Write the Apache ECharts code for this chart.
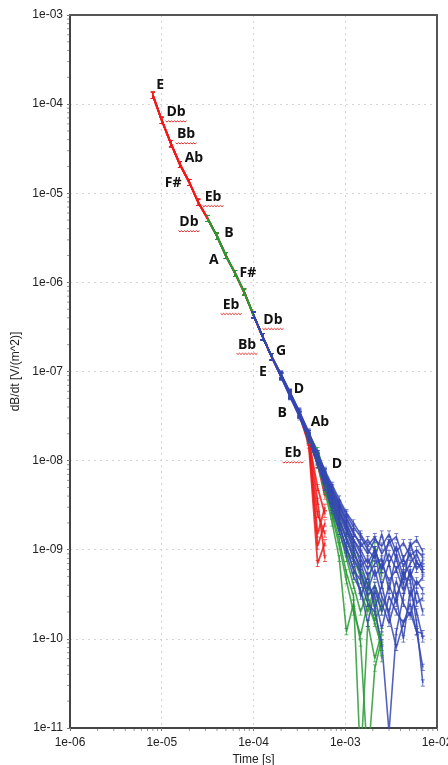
<!DOCTYPE html>
<html lang="en">
<head>
<meta charset="UTF-8" />
<title>dB/dt decay curves</title>
<script src="https://cdn.jsdelivr.net/npm/echarts@6/dist/echarts.min.js"></script>
<style>
  html,body{margin:0;padding:0;width:100%;height:100%;overflow:hidden;background:#fff;}
  #chart{position:absolute;top:0;left:0;width:448px;height:765px;}
</style>
</head>
<body>
<div id="chart"></div>
<script>
/* ==== gate times [s] ==== */
const gates = [8.0e-6, 1.0e-5, 1.26e-5, 1.58e-5, 2.0e-5, 2.5e-5, 3.16e-5, 4.0e-5, 5.0e-5, 6.3e-5,
  7.9e-5, 1.0e-4, 1.26e-4, 1.58e-4, 2.0e-4, 2.5e-4, 3.16e-4, 4.0e-4, 5.0e-4, 6.0e-4,
  7.2e-4, 8.6e-4, 1.03e-3, 1.23e-3, 1.47e-3, 1.76e-3, 2.1e-3, 2.5e-3, 3.0e-3, 3.6e-3,
  4.3e-3, 5.1e-3, 6.0e-3, 7.0e-3];

/* common early part of the decay (gates 0..16) */
const earlyCurve = [1.26e-4, 6.6e-5, 3.6e-5, 2.1e-5, 1.32e-5, 7.9e-6, 5.2e-6, 3.3e-6, 2.0e-6, 1.26e-6,
  7.8e-7, 4.3e-7, 2.45e-7, 1.46e-7, 8.9e-8, 5.5e-8, 3.3e-8];

/* red soundings, gates 17..19 */
const redTails = [
  [1.8e-8, 9.0e-9, 4.0e-9],
  [1.7e-8, 5.0e-9, 2.5e-9],
  [1.6e-8, 2.5e-9, 1.5e-9],
  [1.7e-8, 1.5e-9, 3.0e-9],
  [1.5e-8, 7.0e-10, 1.2e-9],
  [1.9e-8, 3.5e-9, 8.0e-10],
  [1.65e-8, 1.1e-9, 2.0e-9]
];

/* green soundings, gates 17..27 */
const greenTails = [
  [1.9e-8, 1.15e-8, 6.5e-9, 3.8e-9, 2.2e-9, 1.3e-9, 8.0e-10, 5.0e-10, 3.0e-10, 1.6e-10, 2.4e-10],
  [1.8e-8, 9.5e-9, 5.0e-9, 2.6e-9, 1.3e-9, 5.5e-10, 3.0e-10, 4.0e-12, 1.5e-10, 6.0e-11, 1.2e-10],
  [1.7e-8, 9.0e-9, 4.5e-9, 2.0e-9, 8.0e-10, 1.2e-10, 2.5e-10, 9.0e-11, 4.0e-12, 4.7e-11, 1.0e-10],
  [1.85e-8, 1.0e-8, 5.5e-9, 3.0e-9, 1.6e-9, 8.0e-10, 4.0e-10, 2.0e-10, 3.5e-10, 1.1e-9, 5.0e-10],
  [2.0e-8, 1.3e-8, 7.5e-9, 4.5e-9, 2.8e-9, 1.7e-9, 1.0e-9, 6.0e-10, 4.0e-10, 2.5e-10, 6.0e-11],
  [1.75e-8, 9.0e-9, 4.8e-9, 2.4e-9, 1.1e-9, 4.5e-10, 2.0e-10, 1.1e-10, 2.5e-10, 1.5e-10, 8.0e-11],
  [1.9e-8, 1.1e-8, 6.0e-9, 3.3e-9, 1.9e-9, 1.0e-9, 6.0e-10, 3.5e-10, 2.0e-10, 4.0e-10, 2.0e-10]
];

/* blue soundings, gates 14..33 */
const blueTails = [
  [9.2e-8, 5.8e-8, 3.5e-8, 2.0e-8, 1.15e-8, 7.0e-9, 4.4e-9, 3.0e-9, 2.2e-9, 1.5e-9, 1.2e-9, 9.0e-10, 1.3e-9, 1.1e-9, 1.5e-9, 9.5e-10, 1.2e-9, 8.5e-10, 1.0e-9, 8.3e-10],
  [8.8e-8, 5.4e-8, 3.2e-8, 1.8e-8, 9.8e-9, 6.0e-9, 3.6e-9, 2.2e-9, 1.4e-9, 9.0e-10, 6.5e-10, 8.0e-10, 5.0e-10, 7.0e-10, 4.5e-10, 6.0e-10, 3.5e-10, 5.5e-10, 4.0e-10, 4.9e-10],
  [9.0e-8, 5.5e-8, 3.4e-8, 1.9e-8, 1.05e-8, 6.5e-9, 4.0e-9, 2.6e-9, 1.7e-9, 1.2e-9, 7.0e-10, 4.0e-10, 3.0e-10, 1.3e-10, 3.0e-10, 2.0e-10, 1.5e-10, 2.5e-10, 1.2e-10, 1.15e-10],
  [8.6e-8, 5.2e-8, 3.1e-8, 1.7e-8, 9.0e-9, 5.2e-9, 3.0e-9, 1.8e-9, 1.1e-9, 6.0e-10, 4.5e-10, 2.5e-10, 2.0e-10, 9.0e-11, 9.0e-12, 1.2e-10, 3.0e-10, 6.0e-10, 2.5e-10, 2.9e-10],
  [9.4e-8, 5.9e-8, 3.6e-8, 2.1e-8, 1.2e-8, 7.5e-9, 5.0e-9, 3.4e-9, 2.5e-9, 1.8e-9, 1.4e-9, 1.0e-9, 8.0e-10, 1.5e-9, 7.0e-10, 1.1e-9, 6.5e-10, 9.0e-10, 6.0e-10, 7.5e-10],
  [8.7e-8, 5.3e-8, 3.2e-8, 1.8e-8, 9.5e-9, 5.6e-9, 3.3e-9, 2.0e-9, 1.0e-9, 7.5e-10, 3.0e-10, 5.0e-10, 2.2e-10, 4.0e-10, 1.8e-10, 8.0e-11, 1.5e-10, 2.0e-10, 1.2e-10, 4.8e-11],
  [9.1e-8, 5.6e-8, 3.4e-8, 1.95e-8, 1.1e-8, 6.8e-9, 4.2e-9, 2.8e-9, 1.9e-9, 1.3e-9, 9.0e-10, 6.0e-10, 9.0e-10, 4.0e-10, 7.0e-10, 3.0e-10, 5.0e-10, 4.5e-10, 1.5e-10, 3.2e-11],
  [8.9e-8, 5.5e-8, 3.3e-8, 1.85e-8, 1.0e-8, 6.2e-9, 3.8e-9, 2.4e-9, 1.6e-9, 1.0e-9, 5.5e-10, 3.5e-10, 6.0e-10, 3.0e-10, 2.0e-10, 4.5e-10, 2.5e-10, 1.8e-10, 3.5e-10, 2.0e-10],
  [9.0e-8, 5.7e-8, 3.4e-8, 2.0e-8, 1.1e-8, 7.2e-9, 4.6e-9, 3.2e-9, 2.0e-9, 1.3e-9, 1.0e-9, 7.0e-10, 1.0e-9, 6.0e-10, 1.3e-9, 8.0e-10, 4.0e-10, 1.2e-9, 7.0e-10, 6.5e-10],
  [9.3e-8, 5.7e-8, 3.5e-8, 2.05e-8, 1.2e-8, 7.8e-9, 5.3e-9, 3.7e-9, 2.6e-9, 2.0e-9, 1.5e-9, 1.1e-9, 1.4e-9, 9.0e-10, 1.2e-9, 1.4e-9, 8.0e-10, 1.1e-9, 1.3e-9, 9.5e-10],
  [8.8e-8, 5.3e-8, 3.2e-8, 1.75e-8, 9.2e-9, 5.0e-9, 2.8e-9, 1.6e-9, 9.0e-10, 5.0e-10, 3.5e-10, 1.5e-10, 3.5e-10, 2.0e-10, 4.0e-10, 2.5e-10, 6.0e-10, 3.0e-10, 4.5e-10, 3.5e-10],
  [9.0e-8, 5.6e-8, 3.3e-8, 1.9e-8, 1.08e-8, 6.6e-9, 4.1e-9, 2.7e-9, 1.8e-9, 1.1e-9, 8.0e-10, 5.0e-10, 7.0e-10, 8.0e-10, 3.5e-10, 9.0e-10, 5.0e-10, 7.0e-10, 9.0e-10, 6.0e-10],
  [8.9e-8, 5.4e-8, 3.3e-8, 1.85e-8, 1.02e-8, 6.0e-9, 3.5e-9, 2.1e-9, 1.3e-9, 8.0e-10, 5.5e-10, 3.0e-10, 4.0e-10, 2.5e-10, 1.5e-10, 3.0e-10, 1.0e-10, 3.5e-10, 2.0e-10, 1.0e-10],
  [9.2e-8, 5.8e-8, 3.5e-8, 2.0e-8, 1.15e-8, 7.3e-9, 4.8e-9, 3.3e-9, 2.3e-9, 1.6e-9, 1.1e-9, 1.3e-9, 1.0e-9, 6.0e-10, 9.0e-10, 6.0e-10, 8.0e-10, 5.0e-10, 7.5e-10, 5.5e-10]
];

/* note annotations */
const noteNames = ['E','Db','Bb','Ab','F#','Eb','Db','B','A','F#','Eb','Db','Bb','G','E','D','B','Ab','Eb','D'];
const noteTime  = [9.6e-6, 1.43e-5, 1.84e-5, 2.24e-5, 1.33e-5, 3.62e-5, 1.98e-5, 5.4e-5, 3.7e-5, 8.7e-5,
  5.7e-5, 1.63e-4, 8.5e-5, 2.0e-4, 1.27e-4, 3.13e-4, 2.05e-4, 5.3e-4, 2.69e-4, 8.1e-4];
const noteLevel = [1.64e-4, 8.1e-5, 4.6e-5, 2.5e-5, 1.3e-5, 9.1e-6, 4.75e-6, 3.6e-6, 1.78e-6, 1.27e-6,
  5.6e-7, 3.8e-7, 2.0e-7, 1.7e-7, 9.8e-8, 6.3e-8, 3.4e-8, 2.7e-8, 1.21e-8, 9.1e-9];
const noteFlagged = [0,1,1,0,0,1,1,0,0,0,1,1,1,0,0,0,0,0,1,0];

/* ==== build series ==== */
const errBar = 'path://M0,0H4V1H2.4V9H4V10H0V9H1.6V1H0Z';

function sounding(first, vals, color, width){
  return {
    type:'line', data: vals.map((v,i)=>[gates[first+i], v]),
    symbol: errBar, symbolSize:[4,7], symbolKeepAspect:false,
    lineStyle:{color, width, opacity:0.85},
    itemStyle:{color, opacity:0.9},
    animation:false, silent:true
  };
}

const series = [];
redTails.forEach(t=>series.push(sounding(0, earlyCurve.concat(t), '#f01c1c', 1.8)));
greenTails.forEach(t=>series.push(sounding(6, earlyCurve.slice(6).concat(t), '#2a9a35', 1.6)));
blueTails.forEach(t=>series.push(sounding(11, earlyCurve.slice(11,14).concat(t), '#3546b3', 1.6)));

const fmtExp = v=>{
  const e = Math.round(Math.log10(v));
  return '1e' + (e<0?'-':'+') + String(Math.abs(e)).padStart(2,'0');
};

/* minor ticks at 2..9 of every decade */
series.push({
  type:'custom', silent:true, clip:false, z:20, animation:false,
  data:[[1e-6,1e-11]],
  renderItem(params, api){
    const kids = [];
    const o = api.coord([1e-6,1e-11]);
    for(let e=-6;e<-2;e++) for(let m=2;m<10;m++){
      const x = api.coord([m*Math.pow(10,e),1e-11])[0];
      kids.push({type:'line',shape:{x1:x,y1:o[1]+1,x2:x,y2:o[1]+3},style:{stroke:'#999',lineWidth:1}});
    }
    for(let e=-11;e<-3;e++) for(let m=2;m<10;m++){
      const y = api.coord([1e-6,m*Math.pow(10,e)])[1];
      kids.push({type:'line',shape:{x1:o[0]-1,y1:y,x2:o[0]-3,y2:y},style:{stroke:'#999',lineWidth:1}});
    }
    return {type:'group',children:kids};
  }
});

/* note labels with squiggly underline on flats */
series.push({
  type:'custom', silent:true, z:30, animation:false,
  data: noteTime.map((t,i)=>[t, noteLevel[i]]),
  renderItem(params, api){
    const i = params.dataIndex;
    const p = api.coord([api.value(0), api.value(1)]);
    const txt = noteNames[i];
    const kids = [{
      type:'text',
      style:{x:p[0], y:p[1], text:txt, font:'bold 14px "Open Sans"', fill:'#111', align:'center', verticalAlign:'middle'}
    }];
    if(noteFlagged[i]){
      const w = txt.length*10.5, pts = [];
      let k = 0;
      for(let x=p[0]-w/2; x<=p[0]+w/2; x+=1.5, k++) pts.push([x, p[1]+8.5 + (k%2?1.3:0)]);
      kids.push({type:'polyline', shape:{points:pts}, style:{stroke:'#e53030', lineWidth:1, fill:null}});
    }
    return {type:'group', children:kids};
  }
});

const frameAxis = {
  axisLine:{show:true, lineStyle:{color:'#555', width:2}},
  axisTick:{show:false}, axisLabel:{show:false}, splitLine:{show:false}
};

const chart = echarts.init(document.getElementById('chart'));
chart.setOption({
  animation:false,
  backgroundColor:'#fff',
  grid:{left:70, right:11, top:15, bottom:37, outerBoundsMode:'none', containLabel:false},
  xAxis:[{
    type:'log', logBase:10, min:1e-6, max:1e-2, interval:1,
    name:'Time [s]', nameLocation:'middle', nameGap:22,
    nameTextStyle:{fontFamily:'Liberation Sans', fontSize:12, color:'#222'},
    axisLine:{lineStyle:{color:'#444', width:2}},
    axisTick:{show:true, length:3, lineStyle:{color:'#777'}},
    axisLabel:{formatter:fmtExp, fontFamily:'Liberation Sans', fontSize:12, color:'#222', margin:9},
    splitLine:{show:true, lineStyle:{color:'#d4d4d4', type:[2,4], width:1}}
  }, Object.assign({type:'log', logBase:10, min:1e-6, max:1e-2, position:'top'}, frameAxis)],
  yAxis:[{
    type:'log', logBase:10, min:1e-11, max:1e-3, interval:1,
    name:'dB/dt [V/(m^2)]', nameLocation:'middle', nameGap:47,
    nameTextStyle:{fontFamily:'Liberation Sans', fontSize:12, color:'#222'},
    axisLine:{lineStyle:{color:'#444', width:2}},
    axisTick:{show:true, length:3, lineStyle:{color:'#777'}},
    axisLabel:{formatter:fmtExp, fontFamily:'Liberation Sans', fontSize:12, color:'#222', margin:7},
    splitLine:{show:true, lineStyle:{color:'#d4d4d4', type:[2,4], width:1}}
  }, Object.assign({type:'log', logBase:10, min:1e-11, max:1e-3, position:'right'}, frameAxis)],
  series
});
</script>
</body>
</html>
